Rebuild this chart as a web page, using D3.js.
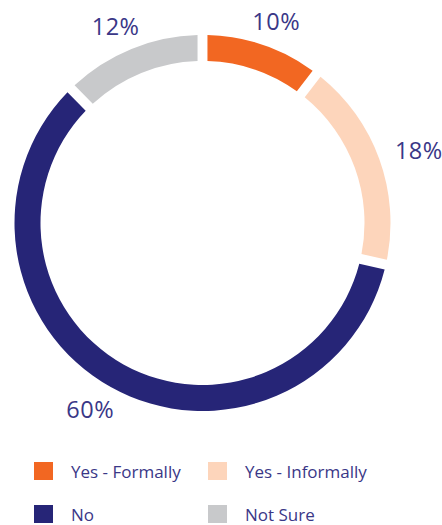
<!DOCTYPE html>
<html>
<head>
<meta charset="utf-8">
<script src="https://cdn.jsdelivr.net/npm/d3@7"></script>
<style>
  html, body { margin: 0; padding: 0; background: #fff; }
  svg text { font-family: "Open Sans", "Noto Sans", sans-serif; fill: #3a3787; }
</style>
</head>
<body>
<svg id="chart" width="442" height="525"></svg>
<script>
// Survey answers and their shares (percent)
const categories = ["Yes - Formally", "Yes - Informally", "No", "Not Sure"];
const shares = [10, 18, 60, 12];
const colors = ["#f26722", "#fdd5bb", "#262577", "#c8c9cb"];

const svg = d3.select("#chart");
const cx = 202.5, cy = 223;
const outerR = 188, innerR = 162, labelR = 213;

const data = categories.map((c, i) => ({ name: c, value: shares[i], color: colors[i] }));

const pie = d3.pie().value(d => d.value).sort(null).padAngle(0.04);
const arc = d3.arc().innerRadius(innerR).outerRadius(outerR);
const labelArc = d3.arc().innerRadius(labelR).outerRadius(labelR);

const g = svg.append("g").attr("transform", `translate(${cx},${cy})`);
const arcs = pie(data);

g.selectAll("path.slice")
  .data(arcs)
  .join("path")
  .attr("class", "slice")
  .attr("d", arc)
  .attr("fill", d => d.data.color);

// Percent labels sit just outside the ring, pushed a little sideways
g.selectAll("text.pct")
  .data(arcs)
  .join("text")
  .attr("class", "pct")
  .attr("transform", d => {
    const [x, y] = labelArc.centroid(d);
    return `translate(${x * 1.08},${y})`;
  })
  .attr("text-anchor", "middle")
  .attr("dominant-baseline", "central")
  .style("font-size", "23.5px")
  .style("letter-spacing", "0.5px")
  .text(d => d.data.value + "%");

// Legend: two columns, two rows
const col = d3.scaleOrdinal().domain([0, 1]).range([34, 208]);
const row = d3.scaleOrdinal().domain([0, 1]).range([462, 505]);

const legend = svg.selectAll("g.legend")
  .data(data)
  .join("g")
  .attr("class", "legend")
  .attr("transform", (d, i) => `translate(${col(i % 2)},${row(Math.floor(i / 2))})`);

legend.append("rect")
  .attr("width", 19)
  .attr("height", 18)
  .attr("fill", d => d.color);

legend.append("text")
  .attr("x", 37)
  .attr("y", 16)
  .style("font-size", "17px")
  .text(d => d.name);
</script>
</body>
</html>
